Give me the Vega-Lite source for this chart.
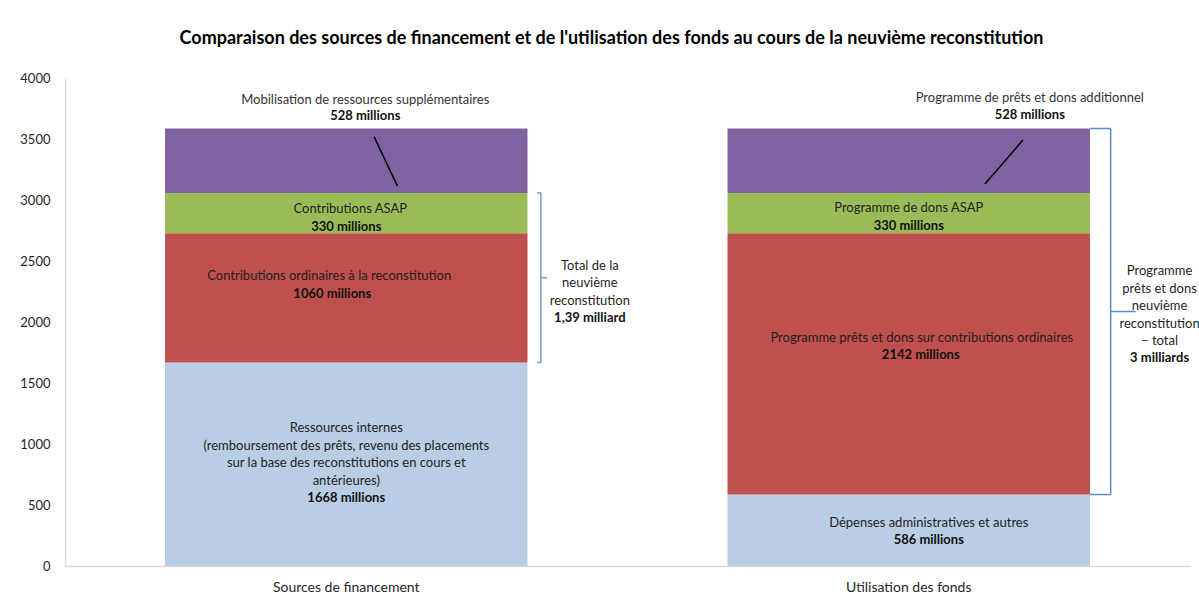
{
  "$schema": "https://vega.github.io/schema/vega-lite/v6.json",
  "width": 1125,
  "height": 488,
  "autosize": {"type": "none"},
  "padding": {"left": 65, "top": 78, "right": 9, "bottom": 38},
  "background": "white",
  "config": {
    "view": {"stroke": null},
    "font": "Lato",
    "axisX": {"title": null, "labelAngle": 0, "ticks": false, "grid": false, "domainColor": "#D9D9D9", "domainWidth": 1.5, "labelFont": "Lato", "labelFontSize": 14, "labelColor": "#262626", "labelPadding": 14},
    "axisY": {"title": null, "ticks": false, "grid": false, "domainColor": "#D9D9D9", "domainWidth": 1.5, "labelFont": "Lato", "labelFontSize": 13, "labelColor": "#262626", "labelPadding": 15, "tickCount": 9, "format": "d"},
    "text": {"font": "Lato", "fontSize": 13, "lineHeight": 17.5, "lineBreak": "|", "baseline": "middle", "color": "#1f1f1f"}
  },
  "title": {
    "text": "Comparaison des sources de financement et de l'utilisation des fonds au cours de la neuvième reconstitution",
    "font": "Lato", "fontSize": 18, "fontWeight": "bold", "color": "#000000",
    "anchor": "middle", "frame": "group", "offset": 24, "dx": -16
  },
  "datasets": {
    "segments": [
      {"cat": "Sources de financement", "level": 1, "value": 1668, "name": ["Ressources internes", "(remboursement des prêts, revenu des placements", "sur la base des reconstitutions en cours et", "antérieures)"]},
      {"cat": "Sources de financement", "level": 2, "value": 1060, "name": ["Contributions ordinaires à la reconstitution"]},
      {"cat": "Sources de financement", "level": 3, "value": 330, "name": ["Contributions ASAP"]},
      {"cat": "Sources de financement", "level": 4, "value": 528, "name": ["Mobilisation de ressources supplémentaires"]},
      {"cat": "Utilisation des fonds", "level": 1, "value": 586, "name": ["Dépenses administratives et autres"]},
      {"cat": "Utilisation des fonds", "level": 2, "value": 2142, "name": ["Programme prêts et dons sur contributions ordinaires"]},
      {"cat": "Utilisation des fonds", "level": 3, "value": 330, "name": ["Programme de dons ASAP"]},
      {"cat": "Utilisation des fonds", "level": 4, "value": 528, "name": ["Programme de prêts et dons additionnel"]}
    ],
    "brackets": [
      {"cat": "Sources de financement", "from": 1668, "to": 3058, "name": ["Total de la", "neuvième", "reconstitution"], "total": "1,39 milliard"},
      {"cat": "Utilisation des fonds", "from": 586, "to": 3586, "name": ["Programme", "prêts et dons", "neuvième", "reconstitution", "– total"], "total": "3 milliards"}
    ]
  },
  "layer": [
    {
      "data": {"name": "segments"},
      "transform": [
        {"stack": "value", "groupby": ["cat"], "sort": [{"field": "level", "order": "ascending"}], "as": ["v0", "v1"]},
        {"calculate": "(datum.v0 + datum.v1) / 2", "as": "mid"},
        {"calculate": "join(datum.name, '|')", "as": "nameText"},
        {"calculate": "datum.value + ' millions'", "as": "valText"}
      ],
      "layer": [
        {
          "mark": {"type": "bar"},
          "encoding": {
            "x": {"field": "cat", "type": "nominal", "title": null, "scale": {"paddingInner": 0.3556, "paddingOuter": 0.1778}},
            "y": {"field": "v0", "type": "quantitative", "title": null, "scale": {"domain": [0, 4000], "nice": false}, "axis": {"values": [0, 500, 1000, 1500, 2000, 2500, 3000, 3500, 4000], "format": "d"}},
            "y2": {"field": "v1"},
            "color": {"field": "level", "type": "nominal", "legend": null, "scale": {"domain": [1, 2, 3, 4], "range": ["#B9CDE5", "#C0504D", "#9BBB59", "#8064A2"]}}
          }
        },
        {
          "transform": [{"filter": "datum.cat == 'Sources de financement' && datum.level == 1"}],
          "encoding": {"x": {"field": "cat", "type": "nominal", "title": null}, "y": {"field": "mid", "type": "quantitative", "title": null}},
          "layer": [
            {"mark": {"type": "text", "dy": -36}, "encoding": {"text": {"field": "nameText"}}},
            {"mark": {"type": "text", "fontWeight": "bold", "color": "#111111", "dy": 34}, "encoding": {"text": {"field": "valText"}}}
          ]
        },
        {
          "transform": [{"filter": "datum.cat == 'Sources de financement' && datum.level == 2"}],
          "encoding": {"x": {"field": "cat", "type": "nominal", "title": null}, "y": {"field": "mid", "type": "quantitative", "title": null}},
          "layer": [
            {"mark": {"type": "text", "dy": -22, "dx": -17}, "encoding": {"text": {"field": "nameText"}}},
            {"mark": {"type": "text", "fontWeight": "bold", "color": "#111111", "dy": -4, "dx": -14}, "encoding": {"text": {"field": "valText"}}}
          ]
        },
        {
          "transform": [{"filter": "datum.cat == 'Sources de financement' && datum.level == 3"}],
          "encoding": {"x": {"field": "cat", "type": "nominal", "title": null}, "y": {"field": "mid", "type": "quantitative", "title": null}},
          "layer": [
            {"mark": {"type": "text", "dy": -4, "dx": 4}, "encoding": {"text": {"field": "nameText"}}},
            {"mark": {"type": "text", "fontWeight": "bold", "color": "#111111", "dy": 14}, "encoding": {"text": {"field": "valText"}}}
          ]
        },
        {
          "transform": [{"filter": "datum.cat == 'Sources de financement' && datum.level == 4"}],
          "encoding": {"x": {"field": "cat", "type": "nominal", "title": null}, "y": {"field": "v1", "type": "quantitative", "title": null}},
          "layer": [
            {"mark": {"type": "text", "color": "#333333", "dy": -28.5, "dx": 19}, "encoding": {"text": {"field": "nameText"}}},
            {"mark": {"type": "text", "fontWeight": "bold", "color": "#111111", "dy": -12.5, "dx": 19}, "encoding": {"text": {"field": "valText"}}}
          ]
        },
        {
          "transform": [{"filter": "datum.cat == 'Utilisation des fonds' && datum.level == 1"}],
          "encoding": {"x": {"field": "cat", "type": "nominal", "title": null}, "y": {"field": "mid", "type": "quantitative", "title": null}},
          "layer": [
            {"mark": {"type": "text", "dy": -7, "dx": 20}, "encoding": {"text": {"field": "nameText"}}},
            {"mark": {"type": "text", "fontWeight": "bold", "color": "#111111", "dy": 10, "dx": 20}, "encoding": {"text": {"field": "valText"}}}
          ]
        },
        {
          "transform": [{"filter": "datum.cat == 'Utilisation des fonds' && datum.level == 2"}],
          "encoding": {"x": {"field": "cat", "type": "nominal", "title": null}, "y": {"field": "mid", "type": "quantitative", "title": null}},
          "layer": [
            {"mark": {"type": "text", "dy": -26, "dx": 13}, "encoding": {"text": {"field": "nameText"}}},
            {"mark": {"type": "text", "fontWeight": "bold", "color": "#111111", "dy": -9, "dx": 12}, "encoding": {"text": {"field": "valText"}}}
          ]
        },
        {
          "transform": [{"filter": "datum.cat == 'Utilisation des fonds' && datum.level == 3"}],
          "encoding": {"x": {"field": "cat", "type": "nominal", "title": null}, "y": {"field": "mid", "type": "quantitative", "title": null}},
          "layer": [
            {"mark": {"type": "text", "dy": -5}, "encoding": {"text": {"field": "nameText"}}},
            {"mark": {"type": "text", "fontWeight": "bold", "color": "#111111", "dy": 13}, "encoding": {"text": {"field": "valText"}}}
          ]
        },
        {
          "transform": [{"filter": "datum.cat == 'Utilisation des fonds' && datum.level == 4"}],
          "encoding": {"x": {"field": "cat", "type": "nominal", "title": null}, "y": {"field": "v1", "type": "quantitative", "title": null}},
          "layer": [
            {"mark": {"type": "text", "color": "#333333", "dy": -30.5, "dx": 121}, "encoding": {"text": {"field": "nameText"}}},
            {"mark": {"type": "text", "fontWeight": "bold", "color": "#111111", "dy": -13.5, "dx": 121}, "encoding": {"text": {"field": "valText"}}}
          ]
        },
        {
          "transform": [
            {"filter": "datum.cat == 'Sources de financement' && datum.level == 4"},
            {"calculate": "datum.v0 + (datum.v1 - datum.v0) * 0.87", "as": "a"},
            {"calculate": "datum.v0 + (datum.v1 - datum.v0) * 0.11", "as": "b"}
          ],
          "mark": {"type": "rule", "color": "#000000", "strokeWidth": 1.5},
          "encoding": {
            "x": {"field": "cat", "type": "nominal", "bandPosition": 0.577, "title": null},
            "x2": {"field": "cat", "bandPosition": 0.641},
            "y": {"field": "a", "type": "quantitative", "title": null},
            "y2": {"field": "b"}
          }
        },
        {
          "transform": [
            {"filter": "datum.cat == 'Utilisation des fonds' && datum.level == 4"},
            {"calculate": "datum.v0 + (datum.v1 - datum.v0) * 0.82", "as": "a"},
            {"calculate": "datum.v0 + (datum.v1 - datum.v0) * 0.14", "as": "b"}
          ],
          "mark": {"type": "rule", "color": "#000000", "strokeWidth": 1.5},
          "encoding": {
            "x": {"field": "cat", "type": "nominal", "bandPosition": 0.815, "title": null},
            "x2": {"field": "cat", "bandPosition": 0.71},
            "y": {"field": "a", "type": "quantitative", "title": null},
            "y2": {"field": "b"}
          }
        }
      ]
    },
    {
      "data": {"name": "brackets"},
      "transform": [
        {"calculate": "(datum.from + datum.to) / 2", "as": "mid"},
        {"calculate": "join(datum.name, '|')", "as": "nameText"}
      ],
      "layer": [
        {
          "transform": [{"filter": "datum.cat == 'Sources de financement'"}],
          "layer": [
            {"mark": {"type": "rule", "color": "#6F9BD6", "strokeWidth": 1.5},
             "encoding": {"x": {"field": "cat", "type": "nominal", "bandPosition": 1.037, "title": null}, "y": {"field": "from", "type": "quantitative", "title": null}, "y2": {"field": "to"}}},
            {"mark": {"type": "rule", "color": "#6F9BD6", "strokeWidth": 1.5},
             "encoding": {"x": {"field": "cat", "type": "nominal", "bandPosition": 1.026, "title": null}, "x2": {"field": "cat", "bandPosition": 1.037}, "y": {"field": "to", "type": "quantitative", "title": null}}},
            {"mark": {"type": "rule", "color": "#6F9BD6", "strokeWidth": 1.5},
             "encoding": {"x": {"field": "cat", "type": "nominal", "bandPosition": 1.026, "title": null}, "x2": {"field": "cat", "bandPosition": 1.037}, "y": {"field": "from", "type": "quantitative", "title": null}}},
            {"mark": {"type": "rule", "color": "#6F9BD6", "strokeWidth": 1.5},
             "encoding": {"x": {"field": "cat", "type": "nominal", "bandPosition": 1.037, "title": null}, "x2": {"field": "cat", "bandPosition": 1.054}, "y": {"field": "mid", "type": "quantitative", "title": null}}},
            {"mark": {"type": "text", "dy": -12},
             "encoding": {"x": {"field": "cat", "type": "nominal", "bandPosition": 1.172, "title": null}, "y": {"field": "mid", "type": "quantitative", "title": null}, "text": {"field": "nameText"}}},
            {"mark": {"type": "text", "fontWeight": "bold", "color": "#111111", "dy": 40},
             "encoding": {"x": {"field": "cat", "type": "nominal", "bandPosition": 1.172, "title": null}, "y": {"field": "mid", "type": "quantitative", "title": null}, "text": {"field": "total"}}}
          ]
        },
        {
          "transform": [{"filter": "datum.cat == 'Utilisation des fonds'"}],
          "layer": [
            {"mark": {"type": "rule", "color": "#5B8BCB", "strokeWidth": 1.5},
             "encoding": {"x": {"field": "cat", "type": "nominal", "bandPosition": 1.057, "title": null}, "y": {"field": "from", "type": "quantitative", "title": null}, "y2": {"field": "to"}}},
            {"mark": {"type": "rule", "color": "#5B8BCB", "strokeWidth": 1.5},
             "encoding": {"x": {"field": "cat", "type": "nominal", "bandPosition": 1.0, "title": null}, "x2": {"field": "cat", "bandPosition": 1.057}, "y": {"field": "to", "type": "quantitative", "title": null}}},
            {"mark": {"type": "rule", "color": "#5B8BCB", "strokeWidth": 1.5},
             "encoding": {"x": {"field": "cat", "type": "nominal", "bandPosition": 1.0, "title": null}, "x2": {"field": "cat", "bandPosition": 1.057}, "y": {"field": "from", "type": "quantitative", "title": null}}},
            {"mark": {"type": "rule", "color": "#5B8BCB", "strokeWidth": 1.5},
             "encoding": {"x": {"field": "cat", "type": "nominal", "bandPosition": 1.057, "title": null}, "x2": {"field": "cat", "bandPosition": 1.126}, "y": {"field": "mid", "type": "quantitative", "title": null}}},
            {"mark": {"type": "text", "dy": -40.5},
             "encoding": {"x": {"field": "cat", "type": "nominal", "bandPosition": 1.192, "title": null}, "y": {"field": "mid", "type": "quantitative", "title": null}, "text": {"field": "nameText"}}},
            {"mark": {"type": "text", "fontWeight": "bold", "color": "#111111", "dy": 46.5},
             "encoding": {"x": {"field": "cat", "type": "nominal", "bandPosition": 1.192, "title": null}, "y": {"field": "mid", "type": "quantitative", "title": null}, "text": {"field": "total"}}}
          ]
        }
      ]
    }
  ]
}
